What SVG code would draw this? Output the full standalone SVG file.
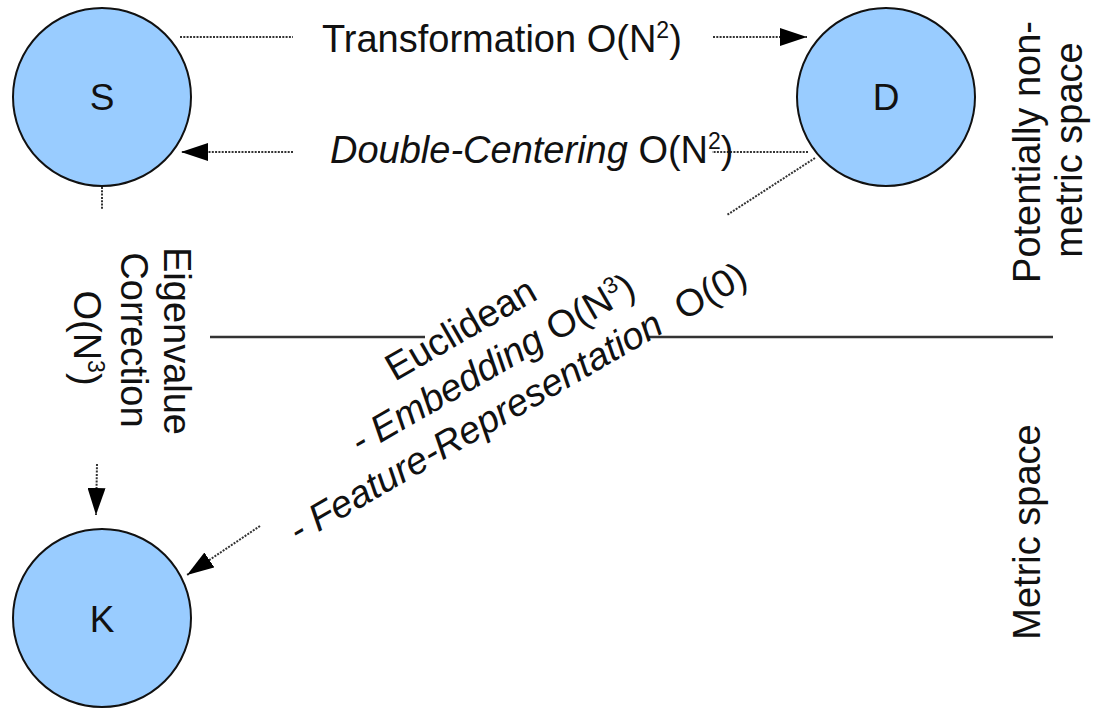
<svg xmlns="http://www.w3.org/2000/svg" width="1095" height="708" viewBox="0 0 1095 708">
<style>
text { font-family: "Liberation Sans", Arial, sans-serif; font-size: 38px; fill: #111; }
.node circle { fill: #99ccff; stroke: #111; stroke-width: 2; }
.node text { font-size: 37px; }
.lbl { text-anchor: middle; }
.dot { fill: none; stroke: #333; stroke-width: 2; stroke-dasharray: 2 1.3; }
.solid { fill: none; stroke: #333; stroke-width: 2.5; }
.it { font-style: italic; }
</style>
<defs>
<marker id="ah" viewBox="0 0 27 18" refX="27" refY="9" markerWidth="27" markerHeight="18" markerUnits="userSpaceOnUse" orient="auto">
<path d="M0,0 L27,9 L0,18 z" fill="#000"/>
</marker>
</defs>
<rect width="1095" height="708" fill="#fff"/>

<g id="separator">
<line class="solid" x1="210" y1="337" x2="425" y2="337"/>
<line class="solid" x1="647" y1="337" x2="1053" y2="337"/>
</g>

<g id="connectors">
<line class="dot" x1="180" y1="37" x2="293" y2="37"/>
<line class="dot" x1="713" y1="37" x2="807" y2="37" marker-end="url(#ah)"/>
<line class="dot" x1="808" y1="152" x2="712" y2="152"/>
<line class="dot" x1="293" y1="152" x2="181" y2="152" marker-end="url(#ah)"/>
<line class="dot" x1="102" y1="187" x2="102" y2="210"/>
<line class="dot" x1="97" y1="464" x2="96" y2="515" marker-end="url(#ah)"/>
<line class="dot" x1="815" y1="158" x2="727" y2="215"/>
<line class="dot" x1="260" y1="526" x2="187" y2="575" marker-end="url(#ah)"/>
</g>

<g id="node-S" class="node">
<circle cx="102" cy="97" r="89"/>
<text class="lbl" x="102" y="110">S</text>
</g>
<g id="node-D" class="node">
<circle cx="886" cy="97" r="89"/>
<text class="lbl" x="886" y="110">D</text>
</g>
<g id="node-K" class="node">
<circle cx="102" cy="618" r="89"/>
<text class="lbl" x="102" y="632">K</text>
</g>

<g id="labels">
<text x="322" y="52">Transformation O(N<tspan dy="-14" font-size="23">2</tspan><tspan dy="14">)</tspan></text>
<text x="330" y="163"><tspan class="it">Double-Centering</tspan> O(N<tspan dy="-14" font-size="23">2</tspan><tspan dy="14">)</tspan></text>
<g transform="rotate(90)">
<text class="lbl" x="341" y="-164">Eigenvalue</text>
<text class="lbl" x="340" y="-121">Correction</text>
<text class="lbl" x="338" y="-74">O(N<tspan dy="-14" font-size="23">3</tspan><tspan dy="14">)</tspan></text>
</g>
<g transform="rotate(-30)">
<text x="151" y="528">Euclidean</text>
<text x="84" y="574"><tspan class="it">- Embedding</tspan> O(N<tspan dy="-14" font-size="23">3</tspan><tspan dy="14">)</tspan></text>
<text x="-14" y="620" xml:space="preserve"><tspan class="it">- Feature-Representation</tspan>  O(0)</text>
</g>
<g transform="rotate(-90)">
<text class="lbl" x="-152" y="1040">Potentially non-</text>
<text class="lbl" x="-150" y="1082">metric space</text>
<text class="lbl" x="-532" y="1040">Metric space</text>
</g>
</g>
</svg>
